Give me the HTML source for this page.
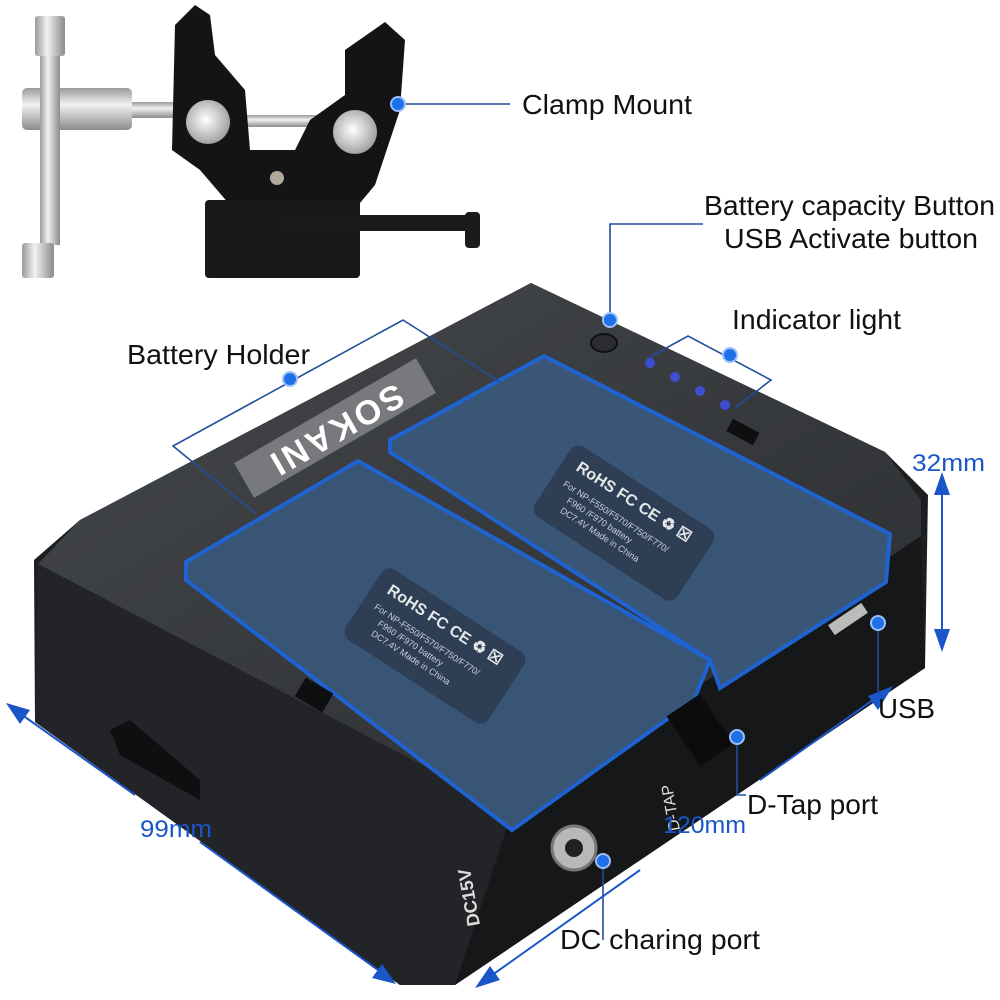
<!DOCTYPE html>
<html><head><meta charset="utf-8"><style>
html,body{margin:0;padding:0;background:#fff;}
svg{display:block}
text{font-family:"Liberation Sans",sans-serif;}
</style></head><body>
<svg width="1000" height="1000" viewBox="0 0 1000 1000">
<defs>
<linearGradient id="metal" x1="0" x2="1"><stop offset="0" stop-color="#9a9a9a"/><stop offset=".4" stop-color="#f2f2f2"/><stop offset="1" stop-color="#8a8a8a"/></linearGradient>
<linearGradient id="metalv" x1="0" y1="0" x2="0" y2="1"><stop offset="0" stop-color="#9a9a9a"/><stop offset=".4" stop-color="#f2f2f2"/><stop offset="1" stop-color="#8a8a8a"/></linearGradient>
<radialGradient id="ball" cx=".45" cy=".45" r=".6"><stop offset="0" stop-color="#fff"/><stop offset="1" stop-color="#9a9a9a"/></radialGradient>
<linearGradient id="top" x1="0" y1="0" x2="1" y2="1"><stop offset="0" stop-color="#45484c"/><stop offset="1" stop-color="#2a2c2f"/></linearGradient>
</defs>

<!-- Clamp -->
<rect x="130" y="102" width="50" height="16" fill="url(#metalv)"/>
<rect x="240" y="115" width="80" height="12" fill="url(#metalv)"/>
<rect x="22" y="88" width="110" height="42" rx="5" fill="url(#metalv)"/>
<rect x="40" y="45" width="20" height="200" fill="url(#metal)"/>
<rect x="35" y="16" width="30" height="40" rx="3" fill="url(#metal)"/>
<rect x="22" y="243" width="32" height="35" rx="3" fill="url(#metal)"/>
<path d="M175,25 L195,5 L210,15 L215,55 L245,90 L250,150 L295,150 L310,120 L345,95 L345,50 L385,22 L405,40 L400,110 L375,185 L350,215 L300,205 L230,205 L200,170 L172,150 Z" fill="#141416"/>
<circle cx="208" cy="122" r="22" fill="url(#ball)"/>
<circle cx="355" cy="132" r="22" fill="url(#ball)"/>
<circle cx="277" cy="178" r="7" fill="#b0a898"/>
<rect x="205" y="200" width="155" height="78" rx="4" fill="#17181a"/>
<rect x="280" y="215" width="200" height="16" fill="#1b1b1d"/>
<rect x="465" y="212" width="15" height="36" rx="4" fill="#1b1b1d"/>

<!-- Body -->
<polygon points="531,283 885,452 928,495 925,668 455,985 400,985 35,722 34,560 80,520" fill="#1d1e20"/>
<polygon points="531,283 885,452 921,500 921,536 512,812 38,564 80,520" fill="url(#top)"/>
<polygon points="38,564 512,812 455,985 400,985 35,722" fill="#232427"/>
<polygon points="512,812 921,536 925,668 455,985" fill="#161719"/>
<polygon points="110,730 130,720 200,780 200,800 120,755" fill="#0e0f10"/>
<!-- SOKANI label -->
<g transform="translate(335,428) rotate(-30)">
<rect x="-105" y="-20" width="210" height="40" fill="#77797c"/>
<text x="0" y="0" transform="rotate(180)" font-size="34" font-weight="bold" fill="#fff" text-anchor="middle" dominant-baseline="middle" letter-spacing="3">SOKANI</text>
</g>
<!-- trays -->
<polygon points="390,440 544,356 890,534 886,582 720,688 710,660 390,452" fill="#3a5677" stroke="#1f63d0" stroke-width="4"/>
<polygon points="186,562 358,461 710,660 694,700 512,830 186,580" fill="#395576" stroke="#1f63d0" stroke-width="4"/>
<g transform="translate(435,646) rotate(33)"><rect x="-85" y="-42" width="170" height="84" rx="10" fill="#2e3f55"/>
<text x="-70" y="-18" font-size="16" font-weight="bold" fill="#e6e8ea">RoHS FC CE ♻ ☒</text>
<text x="-72" y="2" font-size="9" fill="#ccd">For NP-F550/F570/F750/F770/</text>
<text x="-60" y="14" font-size="9" fill="#ccd">F960 /F970 battery</text>
<text x="-60" y="26" font-size="9" fill="#ccd">DC7.4V Made in China</text></g>
<g transform="translate(624,523) rotate(33)"><rect x="-85" y="-42" width="170" height="84" rx="10" fill="#2e3f55"/>
<text x="-70" y="-18" font-size="16" font-weight="bold" fill="#e6e8ea">RoHS FC CE ♻ ☒</text>
<text x="-72" y="2" font-size="9" fill="#ccd">For NP-F550/F570/F750/F770/</text>
<text x="-60" y="14" font-size="9" fill="#ccd">F960 /F970 battery</text>
<text x="-60" y="26" font-size="9" fill="#ccd">DC7.4V Made in China</text></g>
<!-- button, leds -->
<ellipse cx="604" cy="343" rx="13" ry="9" fill="#2c2d30" stroke="#111" stroke-width="2"/>
<circle cx="650" cy="363" r="5" fill="#3b4fd0"/><circle cx="675" cy="377" r="5" fill="#3b4fd0"/>
<circle cx="700" cy="391" r="5" fill="#3b4fd0"/><circle cx="725" cy="405" r="5" fill="#3b4fd0"/>
<rect x="728" y="425" width="30" height="14" transform="rotate(28 743 432)" fill="#0e0f10"/>
<rect x="298" y="684" width="32" height="22" transform="rotate(30 314 695)" fill="#0e0f10"/>
<!-- ports -->
<rect x="680" y="700" width="40" height="60" transform="rotate(-34 700 730)" fill="#0c0c0d"/>
<circle cx="574" cy="848" r="22" fill="#b8b8b8" stroke="#777" stroke-width="3"/>
<circle cx="574" cy="848" r="9" fill="#222"/>
<rect x="828" y="613" width="40" height="12" transform="rotate(-34 848 619)" fill="#bbb"/>
<text x="480" y="925" font-size="18" fill="#ddd" transform="rotate(-100 480 925)" font-weight="bold">DC15V</text>
<text x="680" y="830" font-size="16" fill="#ddd" transform="rotate(-100 680 830)">D-TAP</text>

<!-- annotation lines -->
<g stroke="#1f4e9a" stroke-width="1.6" fill="none">
<line x1="398" y1="104" x2="510" y2="104"/>
<polyline points="610,324 610,224 703,224"/>
<polyline points="648,358 688,336 771,380 735,408"/>
<polyline points="255,513 173,446 403,320 500,382"/>
<polyline points="878,623 878,700"/>
<polyline points="737,737 737,795 746,795"/>
<polyline points="603,861 603,940"/>
</g>
<g stroke="#1a56c8" stroke-width="2" fill="none">
<line x1="942" y1="485" x2="942" y2="640"/>
<line x1="488" y1="978" x2="640" y2="870"/>
<line x1="760" y1="780" x2="880" y2="695"/>
<line x1="18" y1="712" x2="135" y2="795"/>
<line x1="200" y1="842" x2="385" y2="975"/>
</g>
<g fill="#1a56c8">
<polygon points="942,472 934,495 950,495"/>
<polygon points="942,652 934,629 950,629"/>
<polygon points="475,988 490,966 500,980"/>
<polygon points="893,686 868,696 878,710"/>
<polygon points="6,703 30,710 20,724"/>
<polygon points="396,984 372,978 382,964"/>
</g>
<g fill="#1e6fe8" stroke="#9cc0f5" stroke-width="2">
<circle cx="398" cy="104" r="7"/><circle cx="610" cy="320" r="7"/>
<circle cx="730" cy="355" r="7"/><circle cx="290" cy="379" r="7"/>
<circle cx="878" cy="623" r="7"/><circle cx="737" cy="737" r="7"/>
<circle cx="603" cy="861" r="7"/>
</g>

<!-- labels -->
<g font-size="28" fill="#111">
<text x="522" y="114" textLength="170" lengthAdjust="spacingAndGlyphs">Clamp Mount</text>
<text x="704" y="215" textLength="291" lengthAdjust="spacingAndGlyphs">Battery capacity Button</text>
<text x="724" y="248" textLength="254" lengthAdjust="spacingAndGlyphs">USB Activate button</text>
<text x="732" y="329" textLength="169" lengthAdjust="spacingAndGlyphs">Indicator light</text>
<text x="127" y="364" textLength="183" lengthAdjust="spacingAndGlyphs">Battery Holder</text>
<text x="878" y="718" textLength="57" lengthAdjust="spacingAndGlyphs">USB</text>
<text x="747" y="814" textLength="131" lengthAdjust="spacingAndGlyphs">D-Tap port</text>
<text x="560" y="949" textLength="200" lengthAdjust="spacingAndGlyphs">DC charing port</text>
</g>
<g font-size="24" fill="#1a56c8">
<text x="912" y="471" textLength="73" lengthAdjust="spacingAndGlyphs">32mm</text>
<text x="663" y="833" textLength="83" lengthAdjust="spacingAndGlyphs">120mm</text>
<text x="140" y="837" textLength="72" lengthAdjust="spacingAndGlyphs">99mm</text>
</g>
</svg>
</body></html>
